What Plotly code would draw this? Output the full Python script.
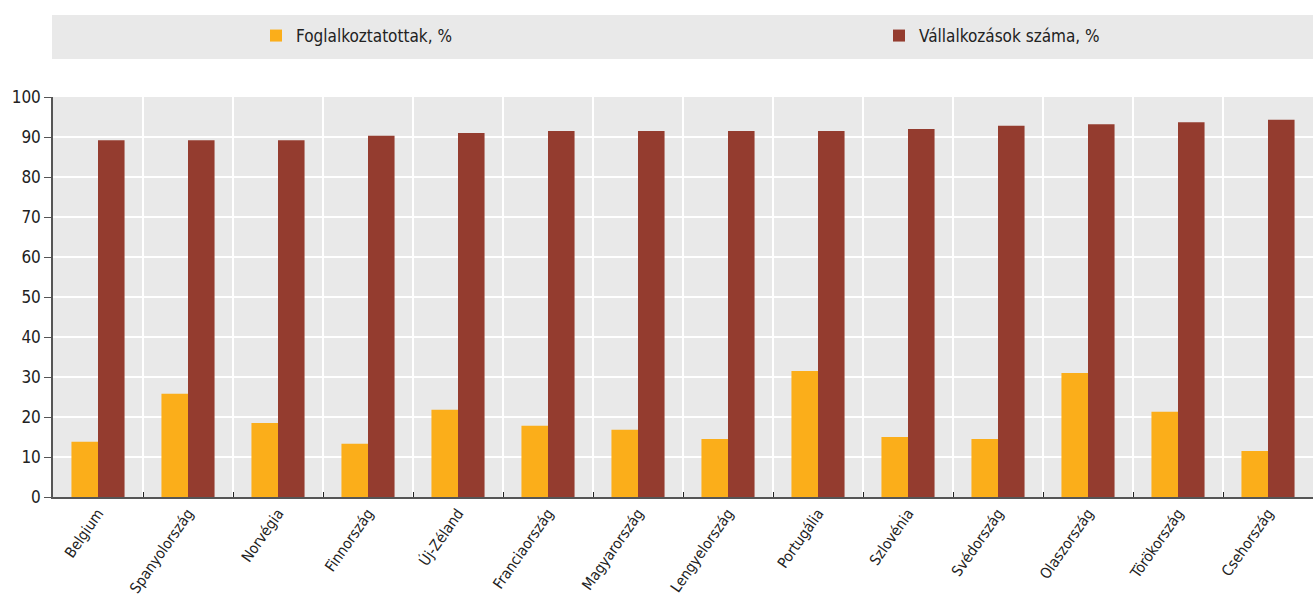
import plotly.graph_objects as go

countries = ["Belgium", "Spanyolország", "Norvégia", "Finnország", "Új-Zéland",
             "Franciaország", "Magyarország", "Lengyelország", "Portugália",
             "Szlovénia", "Svédország", "Olaszország", "Törökország", "Csehország"]
employees = [13.8, 25.8, 18.5, 13.3, 21.8, 17.8, 16.8, 14.5, 31.5, 15.0, 14.5, 31.0, 21.3, 11.5]
enterprises = [89.2, 89.2, 89.2, 90.3, 91.0, 91.5, 91.5, 91.5, 91.5, 92.0, 92.8, 93.2, 93.7, 94.3]

FONT = "Liberation Sans Narrow, DejaVu Sans Condensed, Arial Narrow, sans-serif"

fig = go.Figure()
fig.add_bar(x=countries, y=employees, name="Foglalkoztatottak, %",
            marker=dict(color="#FBAE1A", line=dict(width=0)), legend="legend")
fig.add_bar(x=countries, y=enterprises, name="Vállalkozások száma, %",
            marker=dict(color="#943C2F", line=dict(width=0)), legend="legend2")

H = 601
top, bottom = 97, 104
ph = H - top - bottom
fig.add_shape(type="rect", xref="paper", yref="paper",
              x0=-1 / 1260, x1=1, y0=(497 - 59) / ph, y1=(497 - 15) / ph,
              fillcolor="#E9E9E9", line=dict(width=0), layer="below")

leg_common = dict(orientation="h", xanchor="left", yref="container",
                  y=1 - 36 / H, yanchor="middle", bgcolor="rgba(0,0,0,0)",
                  borderwidth=0,
                  font=dict(family=FONT, size=17, color="#222222"))

fig.update_layout(
    width=1313, height=H,
    margin=dict(l=53, r=0, t=top, b=bottom, autoexpand=False),
    paper_bgcolor="white", plot_bgcolor="#E9E9E9",
    barmode="group", bargap=0.41, bargroupgap=0,
    font=dict(family=FONT, size=16, color="#222222"),
    showlegend=True,
    legend=dict(x=(256 - 53) / 1260, **leg_common),
    legend2=dict(x=(879 - 53) / 1260, **leg_common),
    xaxis=dict(type="category", tickson="boundaries", ticks="inside", ticklen=5,
               tickcolor="#222222", showgrid=True, gridcolor="white", gridwidth=1.5,
               showline=True, linecolor="#555555", linewidth=1.5, automargin=False,
               tickangle=-55, tickfont=dict(family=FONT, size=15, color="#222222")),
    yaxis=dict(range=[0, 100], dtick=10, ticks="outside", ticklen=7,
               tickcolor="#555555", showgrid=True, gridcolor="white", gridwidth=1.5,
               showline=True, linecolor="#555555", linewidth=1.5, zeroline=False,
               automargin=False,
               tickfont=dict(family=FONT, size=17, color="#222222")),
)

fig.write_html("out.html", config={"displayModeBar": False},
               post_script="document.body.style.margin='0';document.body.style.padding='0';")
